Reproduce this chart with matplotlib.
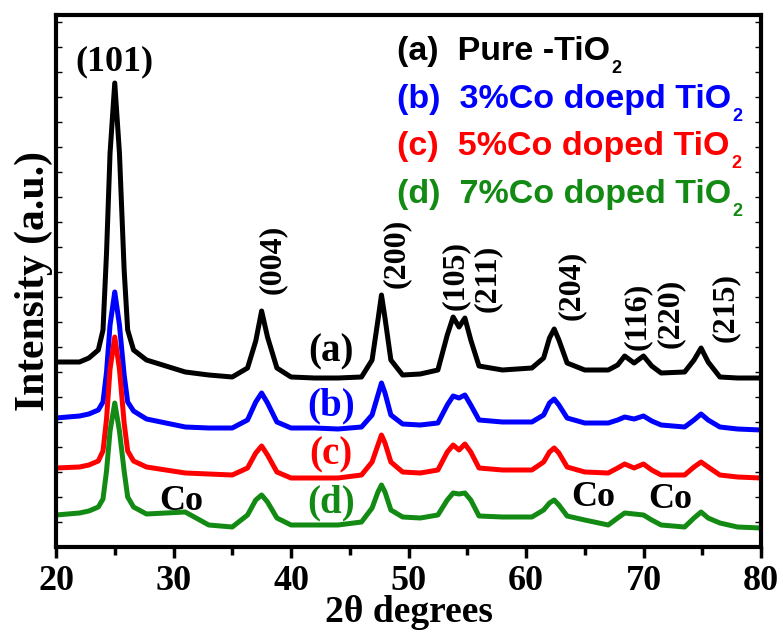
import matplotlib
matplotlib.use("Agg")
import matplotlib.pyplot as plt
from matplotlib.ticker import MultipleLocator

# ============================================================
# 0. style
# ============================================================
plt.rcParams.update({
    "font.family": ["Liberation Serif", "DejaVu Serif"],
    "font.weight": "bold",
    "axes.labelweight": "bold",
    "axes.linewidth": 3.0,
})

# ============================================================
# 1. data (intensity in a.u. with offsets)
# ============================================================
two_theta = [20, 22, 22.8, 23.6, 24.0, 24.3, 24.6, 25.0, 25.4, 25.8,
             26.1, 26.6, 27.7, 31, 33, 35, 36.3, 37.0, 37.5, 38.0,
             38.8, 40, 42, 44, 46, 46.9, 47.4, 47.7, 48.0, 48.5,
             49.5, 51, 52.5, 53.3, 53.8, 54.3, 54.8, 55.3, 56, 58,
             60.5, 61.5, 62.0, 62.4, 62.8, 63.5, 65, 67, 67.8, 68.4,
             69.2, 70.0, 70.7, 71.5, 73.5, 74.3, 74.9, 75.5, 76.5, 78,
             80]

pure_tio2 = [185, 185, 189, 197, 217, 294, 394, 464, 394, 277,
             217, 197, 187, 175, 172, 170, 179, 206, 236, 210,
             179, 170, 169, 169, 170, 187, 227, 252, 229, 187,
             172, 173, 177, 212, 230, 220, 229, 207, 181, 177,
             179, 189, 209, 218, 207, 184, 177, 177, 182, 191,
             184, 191, 181, 174, 175, 187, 199, 185, 170, 169,
             169]

co3_tio2 = [129, 131, 133, 137, 145, 175, 222, 255, 222, 172,
            145, 136, 128, 120, 119, 119, 127, 145, 154, 144,
            125, 119, 119, 118, 120, 132, 152, 164, 154, 132,
            123, 122, 124, 142, 151, 149, 152, 142, 127, 125,
            125, 132, 144, 148, 142, 129, 124, 124, 127, 130,
            128, 131, 126, 122, 120, 127, 133, 127, 120, 118,
            117]

co5_tio2 = [79, 80, 82, 86, 96, 128, 178, 210, 178, 124,
            96, 86, 80, 74, 73, 72, 79, 94, 101, 92,
            75, 69, 69, 69, 72, 85, 102, 112, 104, 85,
            75, 74, 77, 95, 102, 97, 103, 95, 79, 77,
            77, 85, 95, 99, 94, 80, 75, 74, 79, 83,
            79, 83, 77, 72, 72, 80, 85, 80, 72, 70,
            69]

co7_tio2 = [32, 34, 36, 40, 48, 76, 116, 144, 116, 76,
            50, 40, 33, 35, 22, 20, 32, 47, 52, 45,
            29, 22, 22, 22, 25, 39, 55, 62, 55, 37,
            30, 29, 32, 47, 54, 53, 54, 47, 31, 30,
            30, 37, 44, 47, 42, 31, 27, 22, 29, 34,
            33, 32, 27, 22, 20, 29, 35, 29, 24, 20,
            19]

SERIES = [pure_tio2, co3_tio2, co5_tio2, co7_tio2]
COLORS = ["black", "#0000ff", "#ff0000", "#138a13"]
CURVE_TAGS = ["(a)", "(b)", "(c)", "(d)"]
TAG_Y = [195, 141, 92, 44]
LEGEND_TEXT = ["(a)  Pure -TiO", "(b)  3%Co doepd TiO",
               "(c)  5%Co doped TiO", "(d)  7%Co doped TiO"]
LEGEND_Y = [0.915, 0.825, 0.737, 0.647]

# hkl labels: (text, 2theta, y)
HKL = [("(004)", 38.4, 288), ("(200)", 49.0, 294), ("(105)", 53.95, 271),
       ("(211)", 56.7, 269), ("(204)", 63.9, 262), ("(116)", 69.5, 231),
       ("(220)", 72.3, 234), ("(215)", 77.0, 240)]
CO_POS = [(30.7, 45), (65.7, 50), (72.3, 47)]

# ============================================================
# 2. plot
# ============================================================
fig = plt.figure(figsize=(7.83, 6.35), dpi=100)
ax = fig.add_axes([56 / 783, 1 - 547 / 635, 705 / 783, 532 / 635])

for y, c in zip(SERIES, COLORS):
    ax.plot(two_theta, y, color=c, linewidth=3.6, solid_joinstyle="round")

ax.set_xlim(20, 80)
ax.set_ylim(0, 532)

ax.text(25.0, 485, "(101)", ha="center", va="center", fontsize=26)
for txt, x, y in HKL:
    ax.text(x, y, txt, ha="center", va="center", rotation=90, fontsize=23)
for x, y in CO_POS:
    ax.text(x, y, "Co", ha="center", va="center", fontsize=26)
for tag, y, c in zip(CURVE_TAGS, TAG_Y, COLORS):
    ax.text(43.4, y, tag, ha="center", va="center", fontsize=28, color=c)

# 图例文字：TiO 后面单独放下标 2，下沉比 mathtext 更深
for txt, y, c in zip(LEGEND_TEXT, LEGEND_Y, COLORS):
    t = ax.text(0.484, y, txt, transform=ax.transAxes, ha="left", va="baseline",
                fontsize=24.5, color=c, family="Liberation Sans", fontweight="bold")
    ax.annotate("2", xy=(1.0, 0.0), xycoords=t, xytext=(1, 5),
                textcoords="offset points", ha="left", va="top",
                fontsize=13, color=c, family="Liberation Sans", fontweight="bold")

ax.xaxis.set_major_locator(MultipleLocator(10))
ax.xaxis.set_minor_locator(MultipleLocator(5))
ax.yaxis.set_major_locator(MultipleLocator(25))
ax.tick_params(axis="x", which="major", direction="out", length=8, width=2.5,
               labelsize=26, pad=5)
ax.tick_params(axis="x", which="minor", direction="out", length=6, width=2.5)
ax.tick_params(axis="y", which="major", direction="in", length=4, width=1,
               left=True, right=True, labelleft=False)

ax.set_xlabel("2θ degrees", fontsize=27, labelpad=-2.5)
ax.set_ylabel("Intensity (a.u.)", fontsize=30, labelpad=2)

fig.savefig("out.png", dpi=100)
